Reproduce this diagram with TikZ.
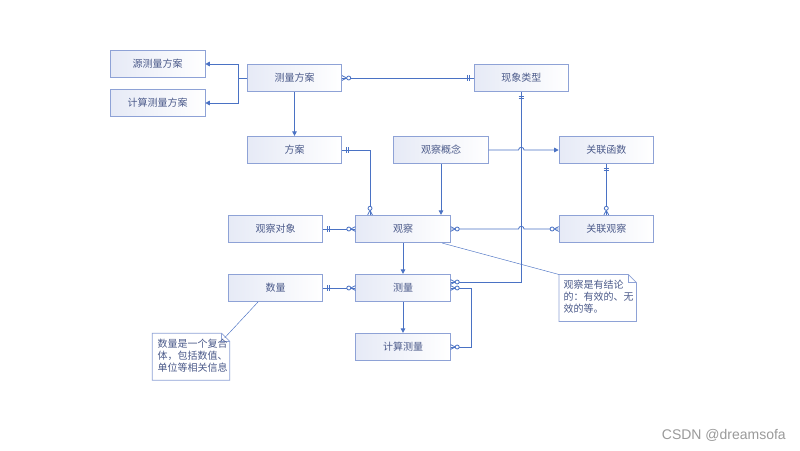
\documentclass[tikz,border=0pt]{standalone}
\usepackage{fontspec}
\setmainfont{Noto Sans CJK SC}
\newfontfamily\wmfont{Liberation Sans}
\usetikzlibrary{arrows.meta}
\definecolor{lc}{HTML}{4A72C4}
\definecolor{bc}{HTML}{8EA2D6}
\definecolor{bs}{HTML}{E6EAF6}
\definecolor{tc}{HTML}{4B5A8A}
\definecolor{wmc}{HTML}{9A9A9A}

\pgfdeclarearrow{
  name=ZM,
  setup code={
    \pgfarrowssettipend{0pt}
    \pgfarrowssetlineend{0pt}
    \pgfarrowssetbackend{-8.5pt}
    \pgfarrowssetvisualbackend{-8.5pt}
    \pgfarrowshullpoint{0pt}{2.5pt}
    \pgfarrowshullpoint{0pt}{-2.5pt}
    \pgfarrowshullpoint{-8.5pt}{2pt}
    \pgfarrowshullpoint{-8.5pt}{-2pt}
  },
  drawing code={
    \pgfsetdash{}{0pt}
    \pgfpathmoveto{\pgfqpoint{0pt}{2.4pt}}
    \pgfpathlineto{\pgfqpoint{-4.5pt}{0pt}}
    \pgfpathlineto{\pgfqpoint{0pt}{-2.4pt}}
    \pgfusepathqstroke
    \pgfpathcircle{\pgfqpoint{-6.6pt}{0pt}}{2pt}
    \pgfsetfillcolor{white}
    \pgfusepathqfillstroke
  }
}
\pgfdeclarearrow{
  name=ONE,
  setup code={
    \pgfarrowssettipend{0pt}
    \pgfarrowssetlineend{0pt}
    \pgfarrowssetbackend{-7pt}
    \pgfarrowssetvisualbackend{-7pt}
    \pgfarrowshullpoint{0pt}{2.7pt}
    \pgfarrowshullpoint{0pt}{-2.7pt}
    \pgfarrowshullpoint{-7pt}{2.7pt}
    \pgfarrowshullpoint{-7pt}{-2.7pt}
  },
  drawing code={
    \pgfsetdash{}{0pt}
    \pgfpathmoveto{\pgfqpoint{-4pt}{2.7pt}}
    \pgfpathlineto{\pgfqpoint{-4pt}{-2.7pt}}
    \pgfpathmoveto{\pgfqpoint{-6.5pt}{2.7pt}}
    \pgfpathlineto{\pgfqpoint{-6.5pt}{-2.7pt}}
    \pgfusepathqstroke
  }
}

\begin{document}
\begin{tikzpicture}[x=1pt,y=-1pt,
  box/.style={draw=bc, line width=0.7pt, left color=bs, right color=white,
    minimum width=94.5pt, minimum height=27.5pt, inner sep=0pt, text=tc,
    font=\fontsize{10}{12}\selectfont},
  conn/.style={draw=lc, line width=0.8pt},
  tri/.style={-{Triangle[length=4.5pt,width=4.5pt]}},
  notebox/.style={minimum width=77pt, minimum height=46.5pt, inner sep=0pt, anchor=north west},
  notebd/.style={draw=bc, line width=0.7pt},
  notetext/.style={text=tc, font=\fontsize{10}{12}\selectfont, align=left, anchor=north west, inner sep=0pt},
  thinline/.style={draw=lc, line width=0.45pt}]
\useasboundingbox[fill=white] (0,0) rectangle (800,450);

% boxes
\node[box] (ycm) at (157.7,64) {源测量方案};
\node[box] (jcm) at (157.7,103) {计算测量方案};
\node[box] (cm)  at (294.5,78) {测量方案};
\node[box] (xx)  at (521.3,78) {现象类型};
\node[box] (fa)  at (294.5,150) {方案};
\node[box] (gn)  at (441,150) {观察概念};
\node[box] (hs)  at (606.3,150) {关联函数};
\node[box] (dx)  at (275.5,229) {观察对象};
\node[box] (gc)  at (403,229) {观察};
\node[box] (gl)  at (606.3,229) {关联观察};
\node[box] (sl)  at (275.5,288) {数量};
\node[box] (cl)  at (403,288) {测量};
\node[box] (js)  at (403,347) {计算测量};

% notes
\node[notebox] (n1) at (559,274.5) {};
\draw[notebd, fill=white] (n1.north west) -- ([xshift=-8pt]n1.north east) -- ([yshift=-8pt]n1.north east) -- (n1.south east) -- (n1.south west) -- cycle;
\draw[notebd] ([xshift=-8pt]n1.north east) -- ([xshift=-8pt,yshift=-8pt]n1.north east) -- ([yshift=-8pt]n1.north east);
\node[notetext] (t1) at ([xshift=4.3pt,yshift=-5.5pt]n1.north west) {观察是有结论\\的：有效的、无\\效的等。};

\node[notebox] (n2) at (152.3,333.3) {};
\draw[notebd, fill=white] (n2.north west) -- ([xshift=-8pt]n2.north east) -- ([yshift=-8pt]n2.north east) -- (n2.south east) -- (n2.south west) -- cycle;
\draw[notebd] ([xshift=-8pt]n2.north east) -- ([xshift=-8pt,yshift=-8pt]n2.north east) -- ([yshift=-8pt]n2.north east);
\node[notetext] (t2) at ([xshift=5pt,yshift=-6pt]n2.north west) {数量是一个复合\\体，包括数值、\\单位等相关信息};

% connectors
\draw[conn,tri] (cm.west) -- ++(-9,0) |- (ycm.east);
\draw[conn,tri] (cm.west) -- ++(-9,0) |- (jcm.east);
\draw[conn,{ZM}-{ONE}] (cm.east) -- (xx.west);
\draw[conn,tri] (cm.south) -- (fa.north);
\draw[conn,{ONE}-{ZM}] (fa.east) -| ([xshift=-33pt]gc.north);
\draw[conn,tri] (gn.south) -- (gn.south |- gc.north);
\draw[conn,{ONE}-{ZM}] (hs.south) -- (gl.north);
\draw[conn,{ONE}-{ZM}] (dx.east) -- (gc.west);
\draw[conn,{ONE}-{ZM}] (sl.east) -- (cl.west);
\draw[conn,tri] (gc.south) -- (cl.north);
\draw[conn,tri] (cl.south) -- (js.north);
\draw[conn,{ONE}-{ZM}] (xx.south) |- ([yshift=6pt]cl.east);
\draw[conn,{ZM}-{ZM}] (cl.east) -- ++(21,0) |- (js.east);

\coordinate (vx) at (521.3,0);
\draw[conn,tri] (gn.east) -- ([xshift=-2.75pt]vx |- gn.east) arc[start angle=180,end angle=0,radius=2.75pt] -- (hs.west);
\draw[conn,{ZM}-{ZM}] (gc.east) -- ([xshift=-2.75pt]vx |- gc.east) arc[start angle=180,end angle=0,radius=2.75pt] -- (gl.west);

% note links
\draw[thinline] ([xshift=-8.3pt]gc.south east) -- (n1.north west);
\draw[thinline] ([xshift=30pt]sl.south west) -- ([xshift=-5pt,yshift=-4.5pt]n2.north east);

% watermark
\node[text=wmc, font=\wmfont\fontsize{14}{15}\selectfont, anchor=east, inner sep=0pt] (wm) at (786,435) {CSDN @dreamsofa};
\end{tikzpicture}
\end{document}
